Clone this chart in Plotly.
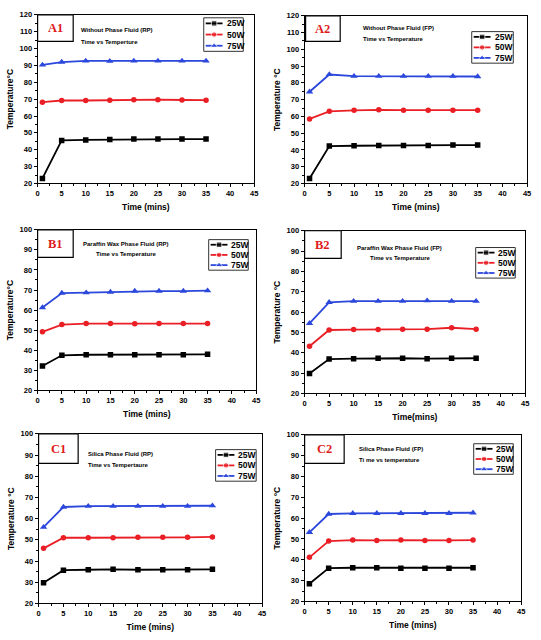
import plotly.graph_objects as go

W, H = 541, 640

# ---------------- data ----------------
time_min = [1, 5, 10, 15, 20, 25, 30, 35]
series_names = ["25W", "50W", "75W"]
x_tick_vals = [0, 5, 10, 15, 20, 25, 30, 35, 40, 45]

a1_25w = [23.0, 45.5, 45.8, 46.0, 46.3, 46.3, 46.3, 46.3]
a1_50w = [68.2, 69.2, 69.2, 69.4, 69.7, 69.7, 69.5, 69.4]
a1_75w = [90.3, 92.0, 92.7, 92.5, 92.7, 92.7, 92.7, 92.7]

a2_25w = [23.0, 42.3, 42.5, 42.7, 42.7, 42.7, 42.9, 42.9]
a2_50w = [58.5, 63.0, 63.6, 63.9, 63.7, 63.7, 63.7, 63.7]
a2_75w = [74.7, 85.0, 84.0, 84.0, 84.0, 84.0, 84.0, 83.8]

b1_25w = [32.2, 37.5, 37.8, 37.8, 37.8, 37.8, 37.8, 38.0]
b1_50w = [49.2, 52.8, 53.3, 53.3, 53.2, 53.3, 53.3, 53.3]
b1_75w = [61.3, 68.5, 68.7, 69.0, 69.5, 69.5, 69.5, 69.7]

b2_25w = [29.8, 36.9, 37.1, 37.3, 37.3, 37.1, 37.3, 37.3]
b2_50w = [43.2, 51.2, 51.4, 51.4, 51.6, 51.6, 52.3, 51.6]
b2_75w = [54.5, 64.8, 65.4, 65.4, 65.4, 65.6, 65.4, 65.4]

c1_25w = [29.8, 35.7, 35.9, 36.1, 35.9, 35.9, 35.9, 36.1]
c1_50w = [46.0, 51.0, 51.0, 51.0, 51.2, 51.2, 51.2, 51.4]
c1_75w = [56.0, 65.5, 65.9, 65.9, 65.9, 65.9, 65.9, 66.1]

c2_25w = [28.5, 36.0, 36.2, 36.2, 36.0, 36.0, 36.0, 36.2]
c2_50w = [41.2, 49.0, 49.5, 49.3, 49.5, 49.3, 49.3, 49.5]
c2_75w = [53.2, 62.0, 62.3, 62.3, 62.3, 62.3, 62.3, 62.6]

panel_labels = ["A1", "A2", "B1", "B2", "C1", "C2"]
note_line1 = ["Without Phase Fluid (RP)", "Without Phase Fluid (FP)",
              "Paraffin Wax Phase Fluid (RP)", "Paraffin Wax Phase Fluid (FP)",
              "Silica Phase Fluid (RP)", "Silica Phase Fluid (FP)"]
note_line2 = ["Time vs Temperture", "Time vs Temperature",
              "Time vs Temperature", "Time vs Temperature",
              "Time vs Tempertaure", "Ti me vs temperature"]
y_titles = ["Temperature°C", "Temperature °C", "Temperature°C",
            "Temperature °C", "Temperature °C", "Temperature °C"]
x_titles = ["Time (mins)", "Time (mins)", "Time (mins)",
            "Time(mins)", "Time (mins)", "Time (mins)"]
panel_values = [
    [a1_25w, a1_50w, a1_75w],
    [a2_25w, a2_50w, a2_75w],
    [b1_25w, b1_50w, b1_75w],
    [b2_25w, b2_50w, b2_75w],
    [c1_25w, c1_50w, c1_75w],
    [c2_25w, c2_50w, c2_75w],
]
y_ranges = [(20, 120), (20, 120), (20, 100), (20, 100), (20, 100), (20, 100)]

# ---------------- layout geometry (pixels) ----------------
plot_boxes = [(36, 11, 255, 182), (306, 12, 531, 182),
              (36, 229, 257, 392), (306, 230, 529, 395),
              (37, 436, 263, 608), (306, 437, 525, 606)]
label_boxes = [(36, 11, 72, 38), (307, 12, 342, 38),
               (36, 229, 72, 257), (306, 230, 343, 258),
               (37, 436, 77, 466), (306, 437, 346, 466)]
legend_boxes = [(204, 14, 244, 48), (475, 28, 517, 60),
                (209, 239, 249, 270), (479, 247, 519, 278),
                (216, 452, 257, 484), (477, 446, 517, 477)]
# note: (x, y1, y2, anchor)
note_pos = [(78, 26, 39, "left"), (363, 24, 35, "left"),
            (125, 243, 254, "center"), (402, 247, 258, "center"),
            (85, 456, 468, "left"), (359, 451, 463, "left")]

colors = ["#000000", "#ea1f26", "#2b47dc"]
symbols = ["square", "circle", "triangle-up"]
marker_sizes = [5.5, 5.5, 6.5]
FONT = "Arial, Liberation Sans, sans-serif"
SERIF = "Times New Roman, Liberation Serif, serif"

fig = go.Figure()
layout = dict(
    width=W, height=H, margin=dict(l=0, r=0, t=0, b=0),
    paper_bgcolor="white", plot_bgcolor="rgba(0,0,0,0)",
    showlegend=False, font=dict(family=FONT, color="black"),
)

shapes = []
annotations = []

for i in range(6):
    n = i + 1
    xa = "xaxis" if n == 1 else f"xaxis{n}"
    ya = "yaxis" if n == 1 else f"yaxis{n}"
    xr = "x" if n == 1 else f"x{n}"
    yr = "y" if n == 1 else f"y{n}"
    px0, py0, px1, py1 = plot_boxes[i]
    layout[xa] = dict(
        domain=[px0 / W, px1 / W], anchor=yr, range=[0, 45],
        tickvals=x_tick_vals, ticks="outside", ticklen=3, tickwidth=1,
        tickcolor="black", showline=True, linecolor="black", linewidth=1,
        mirror=True, showgrid=False, zeroline=False,
        tickfont=dict(size=7.5, family=FONT, weight="bold"),
        minor=dict(dtick=2.5, ticks="outside", ticklen=2, tickcolor="black"),
        title=dict(text=x_titles[i], font=dict(size=8.5, family=FONT, weight="bold"),
                   standoff=6),
    )
    y0, y1 = y_ranges[i]
    layout[ya] = dict(
        domain=[1 - py1 / H, 1 - py0 / H], anchor=xr, range=[y0, y1],
        dtick=10, ticks="outside", ticklen=3, tickwidth=1, tickcolor="black",
        showline=True, linecolor="black", linewidth=1, mirror=True,
        showgrid=False, zeroline=False,
        tickfont=dict(size=7.5, family=FONT, weight="bold"),
        minor=dict(dtick=5, ticks="outside", ticklen=2, tickcolor="black"),
        title=dict(text=y_titles[i], font=dict(size=8.5, family=FONT, weight="bold"),
                   standoff=4),
    )
    for s in range(3):
        fig.add_trace(go.Scatter(
            x=time_min, y=panel_values[i][s], mode="lines+markers",
            name=series_names[s], xaxis=xr, yaxis=yr,
            line=dict(color=colors[s], width=1.8),
            marker=dict(symbol=symbols[s], size=marker_sizes[s], color=colors[s]),
            hoverinfo="x+y+name",
        ))

# overlay axis in pixel coordinates for decorations (label boxes, legends)
layout["xaxis7"] = dict(domain=[0, 1], range=[0, W], visible=False, anchor="y7",
                        fixedrange=True)
layout["yaxis7"] = dict(domain=[0, 1], range=[H, 0], visible=False, anchor="x7",
                        fixedrange=True)

for i in range(6):
    # label box
    lx0, ly0, lx1, ly1 = label_boxes[i]
    shapes.append(dict(type="rect", xref="x7", yref="y7", x0=lx0, y0=ly0,
                       x1=lx1, y1=ly1, line=dict(color="black", width=1.2),
                       fillcolor="white", layer="above"))
    annotations.append(dict(xref="x7", yref="y7", x=(lx0 + lx1) / 2,
                            y=(ly0 + ly1) / 2, text=f"<b>{panel_labels[i]}</b>",
                            showarrow=False, xanchor="center", yanchor="middle",
                            font=dict(family=SERIF, size=12.5, color="#e01b1b")))
    # notes
    nx, ny1, ny2, anc = note_pos[i]
    for txt, yy in ((note_line1[i], ny1), (note_line2[i], ny2)):
        annotations.append(dict(xref="x7", yref="y7", x=nx, y=yy, text=txt,
                                showarrow=False, xanchor=anc, yanchor="middle",
                                font=dict(family=FONT, size=6, weight="bold")))
    # legend
    gx0, gy0, gx1, gy1 = legend_boxes[i]
    shapes.append(dict(type="rect", xref="x7", yref="y7", x0=gx0, y0=gy0,
                       x1=gx1, y1=gy1, line=dict(color="#333333", width=1),
                       fillcolor="rgba(0,0,0,0)", layer="above"))
    row_h = (gy1 - gy0) / 3.0
    for s in range(3):
        ry = gy0 + row_h * (s + 0.5)
        kx0, kx1 = gx0 + 2, gx0 + 19
        fig.add_trace(go.Scatter(
            x=[kx0, (kx0 + kx1) / 2, kx1], y=[ry, ry, ry], mode="lines+markers",
            xaxis="x7", yaxis="y7", showlegend=False, hoverinfo="skip",
            line=dict(color=colors[s], width=1.8),
            marker=dict(symbol=symbols[s], size=[0, marker_sizes[s], 0],
                        color=colors[s]),
        ))
        annotations.append(dict(xref="x7", yref="y7", x=gx0 + 21, y=ry,
                                text=series_names[s], showarrow=False,
                                xanchor="left", yanchor="middle",
                                font=dict(family=FONT, size=8.5, weight="bold")))

layout["shapes"] = shapes
layout["annotations"] = annotations
fig.update_layout(**layout)
fig.write_html("out.html", config={"displayModeBar": False},
               post_script="document.body.style.margin='0';"
                           "document.body.style.overflow='hidden';")
